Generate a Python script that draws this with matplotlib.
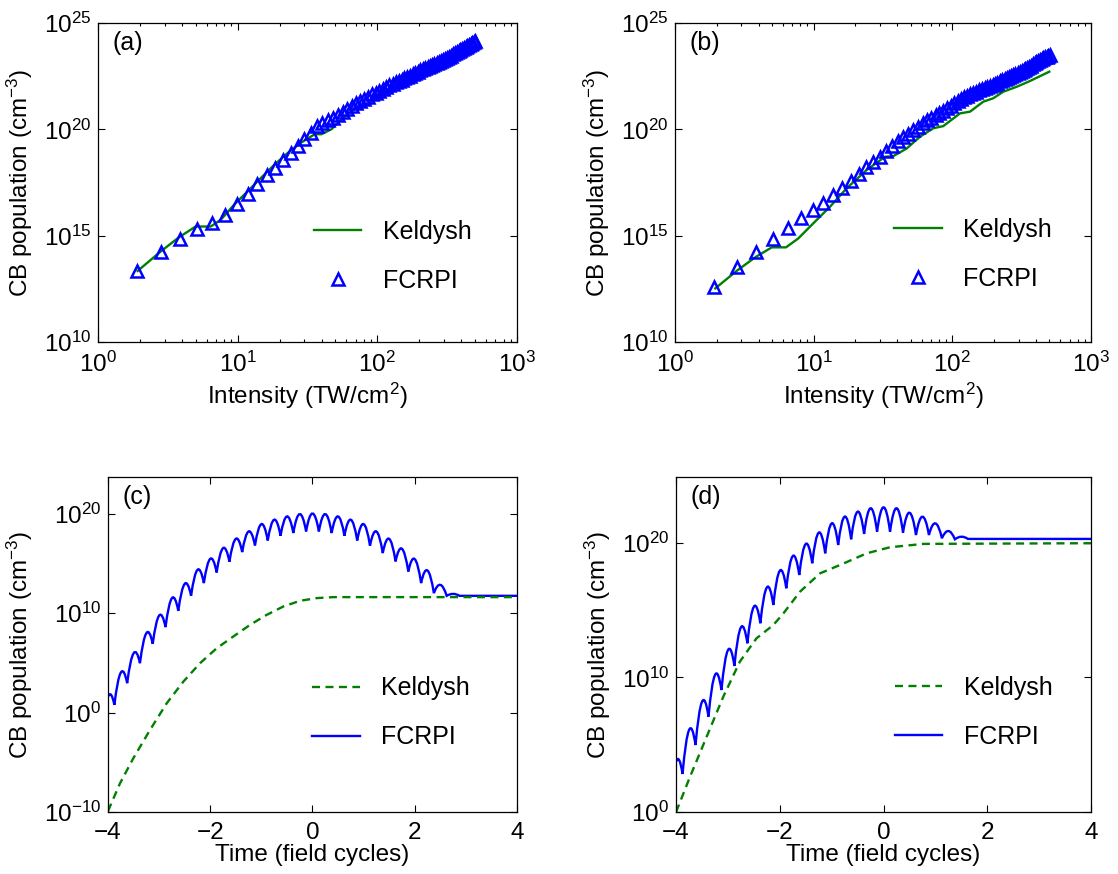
"""
CB population vs. intensity (a, b) and vs. time (c, d): Keldysh vs. FCRPI.
"""

import matplotlib

matplotlib.use("Agg")
import matplotlib.pyplot as plt
import numpy as np
from matplotlib.lines import Line2D
from matplotlib.patches import PathPatch
from matplotlib.path import Path
from matplotlib.ticker import FixedLocator, NullLocator

plt.rcParams["font.family"] = ["Liberation Sans", "DejaVu Sans"]
plt.rcParams["mathtext.fontset"] = "custom"
plt.rcParams["mathtext.rm"] = "Liberation Sans"
plt.rcParams["mathtext.it"] = "Liberation Sans:italic"
plt.rcParams["mathtext.bf"] = "Liberation Sans:bold"
plt.rcParams["font.size"] = 17

BLUE = "#0000ff"
GREEN = "#008000"

# ---- intensity scans (TW/cm^2), populations as log10(cm^-3) ----
fc_intensity = [
    1.90, 2.80, 3.86, 5.10, 6.50, 8.08, 9.83, 11.75, 13.84, 16.10,
    18.53, 21.14, 23.91, 26.86, 29.98, 33.26, 36.72, 40.35, 44.16, 48.13,
    52.27, 56.59, 61.07, 65.73, 70.56, 75.56, 80.73, 86.07, 91.58, 97.27,
    103.1, 109.2, 115.4, 121.7, 128.3, 135.0, 141.9, 148.9, 156.1, 163.5,
    171.1, 178.8, 186.7, 194.8, 203.1, 211.5, 220.1, 228.8, 237.8, 246.9,
    256.2, 265.6, 275.2, 285.0, 295.0, 305.1, 315.4, 325.9, 336.5, 347.4,
    358.3, 369.5, 380.8, 392.3, 404.0, 415.9, 427.9, 440.1, 452.4, 464.9,
    477.6, 490.5, 503.6,
]

a_fc_logn = [
    13.34, 14.25, 14.85, 15.29, 15.59, 15.99, 16.49, 16.96, 17.41, 17.85,
    18.19, 18.54, 18.90, 19.22, 19.54, 19.85, 20.17, 20.30, 20.42, 20.53,
    20.65, 20.80, 20.95, 21.10, 21.22, 21.33, 21.44, 21.54, 21.64, 21.73,
    21.82, 21.91, 22.00, 22.07, 22.14, 22.21, 22.28, 22.34, 22.40, 22.46,
    22.52, 22.58, 22.64, 22.70, 22.77, 22.82, 22.87, 22.92, 22.97, 23.02,
    23.07, 23.12, 23.17, 23.22, 23.27, 23.32, 23.37, 23.42, 23.47, 23.52,
    23.57, 23.62, 23.67, 23.72, 23.77, 23.82, 23.87, 23.92, 23.97, 24.02,
    24.07, 24.12, 24.17,
]

b_fc_logn = [
    12.60, 13.51, 14.22, 14.84, 15.35, 15.81, 16.20, 16.55, 16.91, 17.25,
    17.57, 17.90, 18.21, 18.48, 18.71, 18.99, 19.21, 19.45, 19.62, 19.79,
    19.95, 20.12, 20.28, 20.42, 20.55, 20.66, 20.77, 20.88, 21.00, 21.12,
    21.23, 21.33, 21.42, 21.50, 21.58, 21.65, 21.71, 21.77, 21.83, 21.88,
    21.93, 21.98, 22.03, 22.09, 22.15, 22.20, 22.25, 22.30, 22.35, 22.40,
    22.45, 22.50, 22.55, 22.60, 22.65, 22.70, 22.75, 22.80, 22.85, 22.90,
    22.95, 23.00, 23.05, 23.10, 23.15, 23.20, 23.25, 23.30, 23.34, 23.38,
    23.42, 23.46, 23.50,
]

a_kel_intensity = [1.92, 2.80, 3.79, 5.00, 6.41, 7.57, 9.44, 11.8, 14.7, 18.4,
                   22.9, 28.5, 35.6, 39.8, 47.0, 55.5, 69.2, 86.3, 101.9, 150.0,
                   198.0, 261.0, 344.0, 493.0]
a_kel_logn = [13.34, 14.25, 14.92, 15.43, 15.43, 15.75, 16.46, 17.09, 17.72, 18.35,
              18.90, 19.38, 19.77, 19.77, 20.01, 20.48, 20.96, 21.19, 21.59, 22.14,
              22.46, 22.85, 23.24, 23.67]

b_kel_intensity = [1.95, 2.79, 3.78, 4.98, 6.31, 7.74, 9.93, 13.1, 17.3, 24.1,
                   32.7, 37.5, 46.8, 58.3, 72.8, 85.9, 113.5, 134.0, 167.0, 197.0,
                   233.0, 291.0, 362.0, 500.0]
b_kel_logn = [12.52, 13.35, 13.98, 14.45, 14.45, 14.87, 15.58, 16.36, 17.23, 18.09,
              18.71, 18.74, 19.10, 19.65, 20.05, 20.15, 20.75, 20.83, 21.30, 21.46,
              21.77, 22.00, 22.27, 22.71]

# ---- time traces (field cycles); FCRPI given as cusp knots + arc peaks ----
c_fc_t = [-4.0, -3.875, -3.625, -3.375, -3.125, -2.875, -2.625, -2.375, -2.125,
          -1.875, -1.625, -1.375, -1.125, -0.875, -0.625, -0.375, -0.125, 0.125,
          0.375, 0.625, 0.875, 1.125, 1.375, 1.625, 1.875, 2.125, 2.375, 2.625,
          2.875, 4.0]
c_fc_knot = [1.61, 0.78, 2.96, 4.97, 6.92, 8.60, 10.24, 11.75, 13.03, 14.10,
             15.18, 16.15, 16.82, 17.32, 17.79, 18.07, 18.23, 18.23, 18.07, 17.79,
             17.32, 16.79, 16.05, 15.21, 14.20, 13.03, 12.02, 11.75, 11.75, 11.75]
c_fc_peak = [1.78, 4.03, 5.98, 8.00, 9.77, 11.52, 12.96, 14.37, 15.48, 16.55,
             17.49, 18.23, 18.97, 19.41, 19.74, 19.98, 20.04, 19.98, 19.74, 19.41,
             18.97, 18.23, 17.49, 16.49, 15.45, 14.30, 12.86, 11.95, 11.75]
c_kel_t = [-4.0, -3.765, -3.505, -3.178, -2.852, -2.526, -2.2, -1.873, -1.548,
           -1.221, -0.894, -0.569, -0.243, 0.084, 0.41, 4.0]
c_kel_logn = [-9.9, -7.11, -4.59, -1.74, 0.94, 3.12, 4.97, 6.48, 7.66,
              8.83, 9.84, 10.68, 11.25, 11.52, 11.62, 11.62]

d_fc_t = [-4.0, -3.875, -3.625, -3.375, -3.125, -2.875, -2.625, -2.375, -2.125,
          -1.875, -1.625, -1.375, -1.125, -0.875, -0.625, -0.375, -0.125, 0.125,
          0.375, 0.625, 0.875, 1.125, 1.375, 1.625, 4.0]
d_fc_knot = [3.74, 2.83, 4.98, 7.09, 9.07, 10.86, 12.54, 14.03, 15.39, 16.63,
             17.62, 18.49, 19.23, 19.85, 20.27, 20.67, 20.84, 20.84, 20.77, 20.59,
             20.59, 20.35, 20.27, 20.30, 20.30]
d_fc_peak = [3.85, 6.10, 8.20, 10.19, 12.04, 13.73, 15.27, 16.70, 17.94, 19.03,
             19.93, 20.77, 21.46, 21.96, 22.33, 22.58, 22.65, 22.58, 22.25, 21.96,
             21.46, 20.89, 20.47, 20.30]
d_kel_t = [-4.0, -3.73, -3.41, -3.09, -2.77, -2.45, -2.125, -1.93, -1.61,
           -1.225, -0.84, -0.325, 0.123, 0.765, 4.0]
d_kel_logn = [0.0, 2.63, 5.60, 8.57, 11.18, 12.91, 13.90, 14.77, 16.38,
              17.74, 18.36, 19.23, 19.68, 19.93, 19.98]

YLABEL = r"CB population (cm$^{-3}$)"


def _style(ax):
    ax.tick_params(which="both", direction="in", top=True, right=True,
                   labelsize=17.5, width=0.8)
    ax.tick_params(which="major", length=5)
    ax.tick_params(which="minor", length=2.5)
    ax.tick_params(axis="x", which="major", pad=7)
    ax.tick_params(axis="y", which="major", pad=5)
    for sp in ax.spines.values():
        sp.set_linewidth(0.9)


def draw_scan(ax, fc_logn, kel_I, kel_logn, tag, leg_xy):
    ax.plot(kel_I, 10.0 ** np.asarray(kel_logn), color=GREEN, lw=1.7,
            label="Keldysh")
    ax.plot(fc_intensity, 10.0 ** np.asarray(fc_logn), ls="none", marker="^",
            ms=8.5, mfc="none", mec=BLUE, mew=1.8, label="FCRPI")
    ax.set_xscale("log")
    ax.set_yscale("log")
    ax.set_xlim(1, 1e3)
    ax.set_ylim(1e10, 1e25)
    ax.yaxis.set_major_locator(FixedLocator([1e10, 1e15, 1e20, 1e25]))
    ax.yaxis.set_minor_locator(NullLocator())
    ax.set_xlabel(r"Intensity (TW/cm$^2$)", labelpad=3, fontsize=17.5)
    ax.set_ylabel(YLABEL, labelpad=6, fontsize=17.5)
    ax.text(0.035, 0.975, tag, transform=ax.transAxes, ha="left", va="top",
            fontsize=18)
    ax.legend(loc="center left", bbox_to_anchor=leg_xy, frameon=False,
              numpoints=1, borderpad=0, borderaxespad=0, handlelength=1.9,
              handletextpad=0.85, labelspacing=1.0, fontsize=18)
    _style(ax)


def draw_time(ax, fc_t, fc_knot, fc_peak, kel_t, kel_logn, ylim, yticks,
              tag, leg_xy):
    ax.plot(kel_t, 10.0 ** np.asarray(kel_logn), color=GREEN, lw=1.7,
            dashes=(3.4, 2.3), label="Keldysh")

    # scalloped FCRPI trace: quadratic arcs between cusps, drawn in log space
    verts = [(fc_t[0], 10.0 ** fc_knot[0])]
    codes = [Path.MOVETO]
    for i in range(len(fc_t) - 1):
        y0, y1 = fc_knot[i], fc_knot[i + 1]
        ctrl = 2.0 * fc_peak[i] - 0.5 * (y0 + y1)
        verts += [(0.5 * (fc_t[i] + fc_t[i + 1]), 10.0 ** ctrl),
                  (fc_t[i + 1], 10.0 ** y1)]
        codes += [Path.CURVE3, Path.CURVE3]
    ax.add_patch(PathPatch(Path(verts, codes), fill=False, edgecolor=BLUE,
                           lw=1.7, joinstyle="miter"))

    ax.set_yscale("log")
    ax.set_xlim(-4, 4)
    ax.set_ylim(*ylim)
    ax.set_xticks([-4, -2, 0, 2, 4])
    ax.yaxis.set_major_locator(FixedLocator(yticks))
    ax.yaxis.set_minor_locator(NullLocator())
    ax.set_xlabel("Time (field cycles)", labelpad=0, fontsize=17.5)
    ax.set_ylabel(YLABEL, labelpad=6, fontsize=17.5)
    ax.text(0.035, 0.975, tag, transform=ax.transAxes, ha="left", va="top",
            fontsize=18)
    handles = [ax.get_lines()[0],
               Line2D([], [], color=BLUE, lw=1.7, label="FCRPI")]
    ax.legend(handles=handles, loc="center left", bbox_to_anchor=leg_xy,
              frameon=False, borderpad=0, borderaxespad=0, handlelength=1.9,
              handletextpad=0.85, labelspacing=1.0, fontsize=18)
    _style(ax)


fig = plt.figure(figsize=(11.18, 8.74), dpi=100)
ax_a = fig.add_axes([0.0877, 0.6087, 0.3748, 0.3650])
ax_b = fig.add_axes([0.6038, 0.6087, 0.3721, 0.3650])
ax_c = fig.add_axes([0.0966, 0.0709, 0.3658, 0.3833])
ax_d = fig.add_axes([0.6047, 0.0709, 0.3712, 0.3833])

draw_scan(ax_a, a_fc_logn, a_kel_intensity, a_kel_logn, "(a)", (0.515, 0.268))
draw_scan(ax_b, b_fc_logn, b_kel_intensity, b_kel_logn, "(b)", (0.527, 0.274))
draw_time(ax_c, c_fc_t, c_fc_knot, c_fc_peak, c_kel_t, c_kel_logn,
          (1e-10, 10 ** 23.7), [1e-10, 1e0, 1e10, 1e20], "(c)", (0.50, 0.296))
draw_time(ax_d, d_fc_t, d_fc_knot, d_fc_peak, d_kel_t, d_kel_logn,
          (1e0, 10 ** 24.9), [1e0, 1e10, 1e20], "(d)", (0.527, 0.297))

fig.savefig("out.png", dpi=100)
